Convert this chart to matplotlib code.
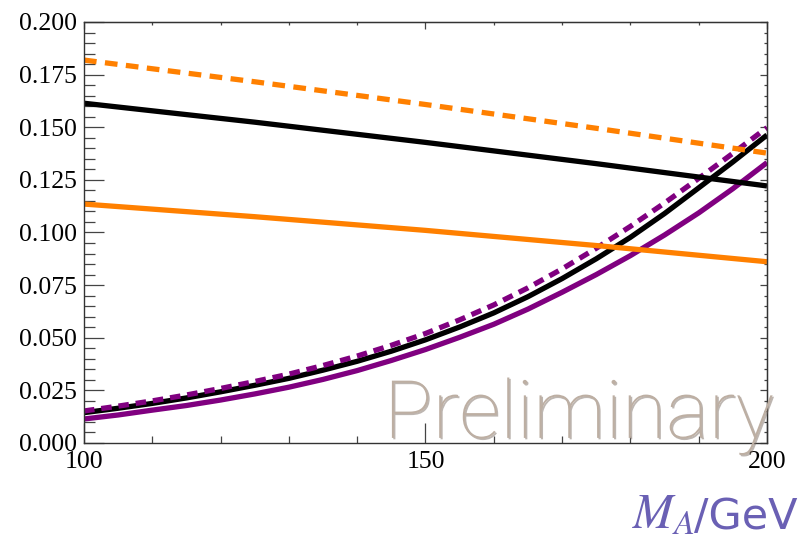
import matplotlib

matplotlib.use("Agg")
import matplotlib.pyplot as plt
import matplotlib.patheffects as pe
from matplotlib.ticker import MultipleLocator

plt.rcParams["mathtext.fontset"] = "stix"

# rising curves, read every 5 GeV
m_fine = [100, 105, 110, 115, 120, 125, 130, 135, 140, 145, 150,
          155, 160, 165, 170, 175, 180, 185, 190, 195, 200]
black_rise = [0.0144, 0.0165, 0.0188, 0.0214, 0.0243, 0.0274, 0.0307, 0.0346, 0.0388, 0.0436, 0.0490,
              0.0551, 0.0618, 0.0695, 0.0781, 0.0875, 0.0977, 0.1090, 0.1212, 0.1335, 0.1463]
purple_solid = [0.0114, 0.0133, 0.0156, 0.0178, 0.0204, 0.0233, 0.0265, 0.0302, 0.0344, 0.0392, 0.0444,
                0.0502, 0.0564, 0.0636, 0.0716, 0.0800, 0.0890, 0.0988, 0.1093, 0.1208, 0.1332]
purple_dashed = [0.0152, 0.0175, 0.0200, 0.0228, 0.0259, 0.0292, 0.0327, 0.0368, 0.0413, 0.0464, 0.0520,
                 0.0585, 0.0656, 0.0737, 0.0827, 0.0925, 0.1029, 0.1140, 0.1257, 0.1376, 0.1498]

# slowly falling curves
m_coarse = [100, 125, 150, 175, 200]
orange_dashed = [0.1819, 0.1716, 0.1608, 0.1495, 0.1377]
black_fall = [0.1614, 0.1524, 0.1428, 0.1327, 0.1221]
orange_solid = [0.1135, 0.1075, 0.1010, 0.0938, 0.0861]

x_ticks = [100, 150, 200]
y_ticks = [0.0, 0.025, 0.05, 0.075, 0.1, 0.125, 0.15, 0.175, 0.2]

ORANGE = "#FF8000"
PURPLE = "#800080"
LW = 3.8

fig = plt.figure(figsize=(8.09, 5.44), dpi=100)
ax = fig.add_axes([0.1038, 0.1857, 0.8443, 0.7739])

ax.plot(m_fine, purple_solid, color=PURPLE, lw=LW, solid_capstyle="butt")
ax.plot(m_fine, black_rise, color="black", lw=LW, solid_capstyle="butt")
ax.plot(m_fine, purple_dashed, color=PURPLE, lw=LW, dashes=(2.0, 1.3))
ax.plot(m_coarse, black_fall, color="black", lw=LW, solid_capstyle="butt")
ax.plot(m_coarse, orange_solid, color=ORANGE, lw=LW, solid_capstyle="butt")
ax.plot(m_coarse, orange_dashed, color=ORANGE, lw=LW, dashes=(2.4, 1.6))

ax.set_xlim(100, 200)
ax.set_ylim(0, 0.2)
ax.set_xticks(x_ticks)
ax.set_yticks(y_ticks)
ax.set_yticklabels([f"{v:.3f}" for v in y_ticks])
ax.xaxis.set_minor_locator(MultipleLocator(10))
ax.yaxis.set_minor_locator(MultipleLocator(0.005))

tick_col = "#444444"
ax.tick_params(which="both", direction="in", top=False, right=False,
               color=tick_col, width=0.9, labelsize=18.5, labelcolor="black")
ax.tick_params(which="major", length=14.5)
ax.tick_params(axis="x", which="minor", length=5)
ax.tick_params(axis="y", which="minor", length=8)
ax.tick_params(axis="x", pad=6)
ax.tick_params(axis="y", pad=5)
for lab in ax.get_xticklabels() + ax.get_yticklabels():
    lab.set_fontfamily("Liberation Serif")

for s in ax.spines.values():
    s.set_color("#333333")
    s.set_linewidth(1.0)

# short ticks on the opposite frame edges
top = ax.secondary_xaxis("top")
top.set_xticks(x_ticks)
top.xaxis.set_minor_locator(MultipleLocator(10))
top.tick_params(which="both", direction="in", labeltop=False, color=tick_col, width=0.9)
top.tick_params(which="major", length=5)
top.tick_params(which="minor", length=2.5)
right = ax.secondary_yaxis("right")
right.set_yticks(y_ticks)
right.yaxis.set_minor_locator(MultipleLocator(0.005))
right.tick_params(which="both", direction="in", labelright=False, color=tick_col, width=0.9)
right.tick_params(which="major", length=5)
right.tick_params(which="minor", length=2.5)

fig.text(0.4747, 0.195, "Preliminary", fontsize=58, family="Roboto", weight="light",
         color="#BDAFA3", ha="left", va="baseline", zorder=10,
         path_effects=[pe.withSimplePatchShadow(offset=(1, -1), shadow_rgbFace="#7d6e64", alpha=0.5)])

# axis label: italic math symbol followed by sans unit
label_col = "#6A60B4"
unit = fig.text(0.986, 0.028, "/GeV", fontsize=31, family="DejaVu Sans",
                color=label_col, ha="right", va="baseline")
renderer = fig.canvas.get_renderer()
x0 = unit.get_window_extent(renderer).x0 / fig.bbox.width
fig.text(x0, 0.028, r"$M_A$", fontsize=35, color=label_col, ha="right", va="baseline")

fig.savefig("out.png", dpi=100)
plt.close(fig)
